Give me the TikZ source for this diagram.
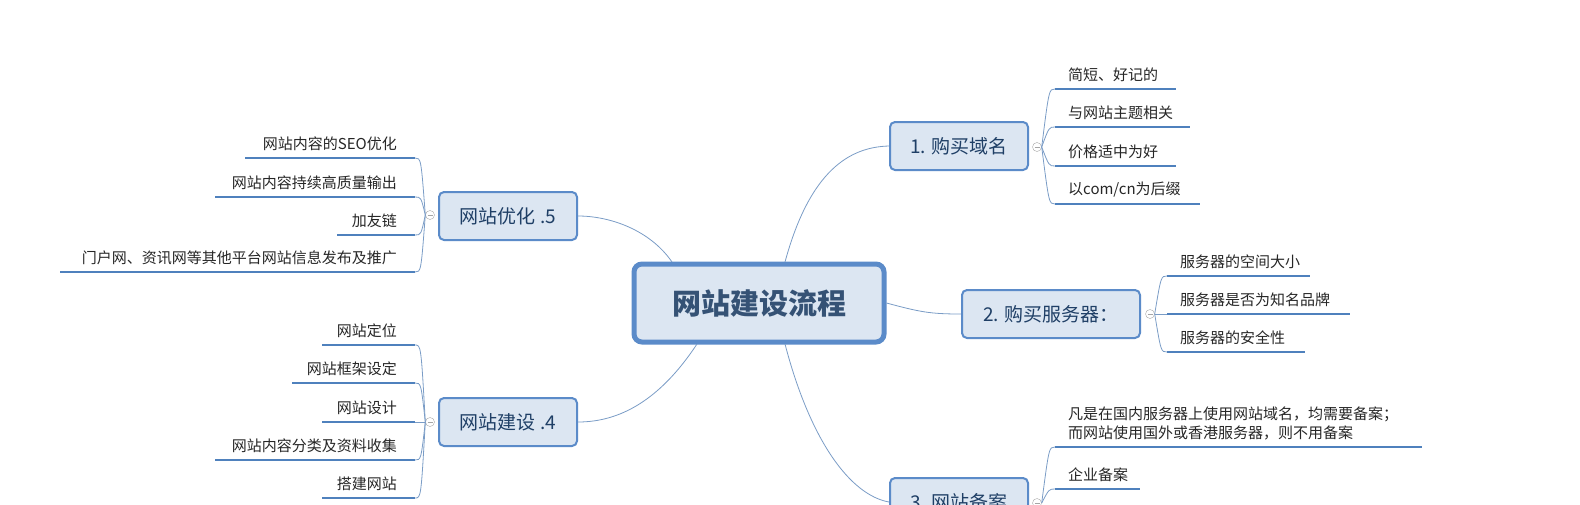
\documentclass[tikz,border=0pt]{standalone}
\usepackage{fontspec}
\setmainfont{Noto Sans CJK SC}
\definecolor{bd}{HTML}{5B8BC9}
\definecolor{fl}{HTML}{DCE6F2}
\definecolor{tx}{HTML}{1F3F66}
\definecolor{ln}{HTML}{4F81BD}
\definecolor{cv}{HTML}{7A9CC6}
\begin{document}
\begin{tikzpicture}[x=1pt,y=-1pt,
  topic/.style={draw=bd,line width=2pt,fill=fl,rounded corners=5pt,font=\fontsize{19}{22}\selectfont,text=tx,inner sep=0pt},
  leaf/.style={font=\fontsize{15}{19}\selectfont,text=black!85,inner sep=0pt,align=left},
  ul/.style={draw=ln,line width=2.5pt},
  cn/.style={draw=cv,line width=0.8pt},
  tog/.style={circle,draw=gray!70,fill=white,minimum size=9pt,inner sep=0pt}]
\useasboundingbox (0,0) rectangle (1580,504);
% central
\node[draw=bd,line width=5pt,fill=fl,rounded corners=8pt,minimum width=250pt,minimum height=78pt,font=\fontsize{29}{32}\selectfont\bfseries,text=tx!90] (c) at (759,303) {网站建设流程};
% topics
\node[topic,minimum width=138pt,minimum height=48pt] (t1) at (959,146) {1. 购买域名};
\node[topic,minimum width=178pt,minimum height=48pt] (t2) at (1051,314) {2. 购买服务器：};
\node[topic,minimum width=138pt,minimum height=48pt] (t3) at (959,502) {3. 网站备案};
\node[topic,minimum width=138pt,minimum height=48pt] (t5) at (508,216) {网站优化 .5};
\node[topic,minimum width=138pt,minimum height=48pt] (t4) at (508,422) {网站建设 .4};
% central connectors
\coordinate (c1) at (785,262); \coordinate (c3) at (785,344);
\coordinate (c5) at (672,262); \coordinate (c4) at (697,344);
\draw[cn] (c1) .. controls (810,170) and (850,147) .. (t1.west);
\draw[cn] (c.east) .. controls (920,312) and (930,314) .. (t2.west);
\draw[cn] (c3) .. controls (810,440) and (850,495) .. (t3.west);
\draw[cn] (c5) .. controls (650,230) and (610,216) .. (t5.east);
\draw[cn] (c4) .. controls (660,400) and (620,422) .. (t4.east);
% toggles
\node[tog] (g1) at (1037,147) {}; \node[tog] (g2) at (1150,314) {};
\node[tog] (g3) at (1037,503) {}; \node[tog] (g5) at (430,215) {};
\node[tog] (g4) at (430,422) {};
\foreach \g in {1,2,3,5,4} \draw[gray!70,line width=0.6pt] ([xshift=-2.5pt]g\g.center)--([xshift=2.5pt]g\g.center);
% right leaves helper
\newcommand{\rleaf}[6]{% name, toggle, x0, x1, y, text
  \coordinate (#1a) at (#3,#5); \coordinate (#1b) at (#4,#5);
  \node[leaf,anchor=south west] (#1) at (#3+13,#5-7) {#6};
  \draw[ul] (#1a)--(#1b);
  \draw[cn] (#2.east) .. controls (#3-6,#5) and (#3-6,#5) .. (#1a);}
\newcommand{\lleaf}[6]{%
  \coordinate (#1a) at (#3,#5); \coordinate (#1b) at (#4,#5);
  \node[leaf,anchor=south east] (#1) at (#4-18,#5-7) {#6};
  \draw[ul] (#1a)--(#1b);
  \draw[cn] (#2.west) .. controls (#4+6,#5) and (#4+6,#5) .. (#1b);}
\rleaf{a1}{g1}{1055}{1176}{89}{简短、好记的}
\rleaf{a2}{g1}{1055}{1190}{127}{与网站主题相关}
\rleaf{a3}{g1}{1055}{1176}{166}{价格适中为好}
\rleaf{a4}{g1}{1055}{1200}{204}{以com/cn为后缀}
\rleaf{b1}{g2}{1167}{1310}{276}{服务器的空间大小}
\rleaf{b2}{g2}{1167}{1350}{314}{服务器是否为知名品牌}
\rleaf{b3}{g2}{1167}{1305}{352}{服务器的安全性}
\rleaf{d1}{g3}{1055}{1422}{447}{凡是在国内服务器上使用网站域名，均需要备案；\\而网站使用国外或香港服务器，则不用备案}
\rleaf{d2}{g3}{1055}{1140}{489}{企业备案}
\lleaf{e1}{g5}{245}{415}{158}{网站内容的SEO优化}
\lleaf{e2}{g5}{215}{415}{197}{网站内容持续高质量输出}
\lleaf{e3}{g5}{337}{415}{235}{加友链}
\lleaf{e4}{g5}{60}{415}{272}{门户网、资讯网等其他平台网站信息发布及推广}
\lleaf{f1}{g4}{322}{415}{345}{网站定位}
\lleaf{f2}{g4}{292}{415}{383}{网站框架设定}
\lleaf{f3}{g4}{322}{415}{422}{网站设计}
\lleaf{f4}{g4}{215}{415}{460}{网站内容分类及资料收集}
\lleaf{f5}{g4}{322}{415}{498}{搭建网站}
\end{tikzpicture}
\end{document}
